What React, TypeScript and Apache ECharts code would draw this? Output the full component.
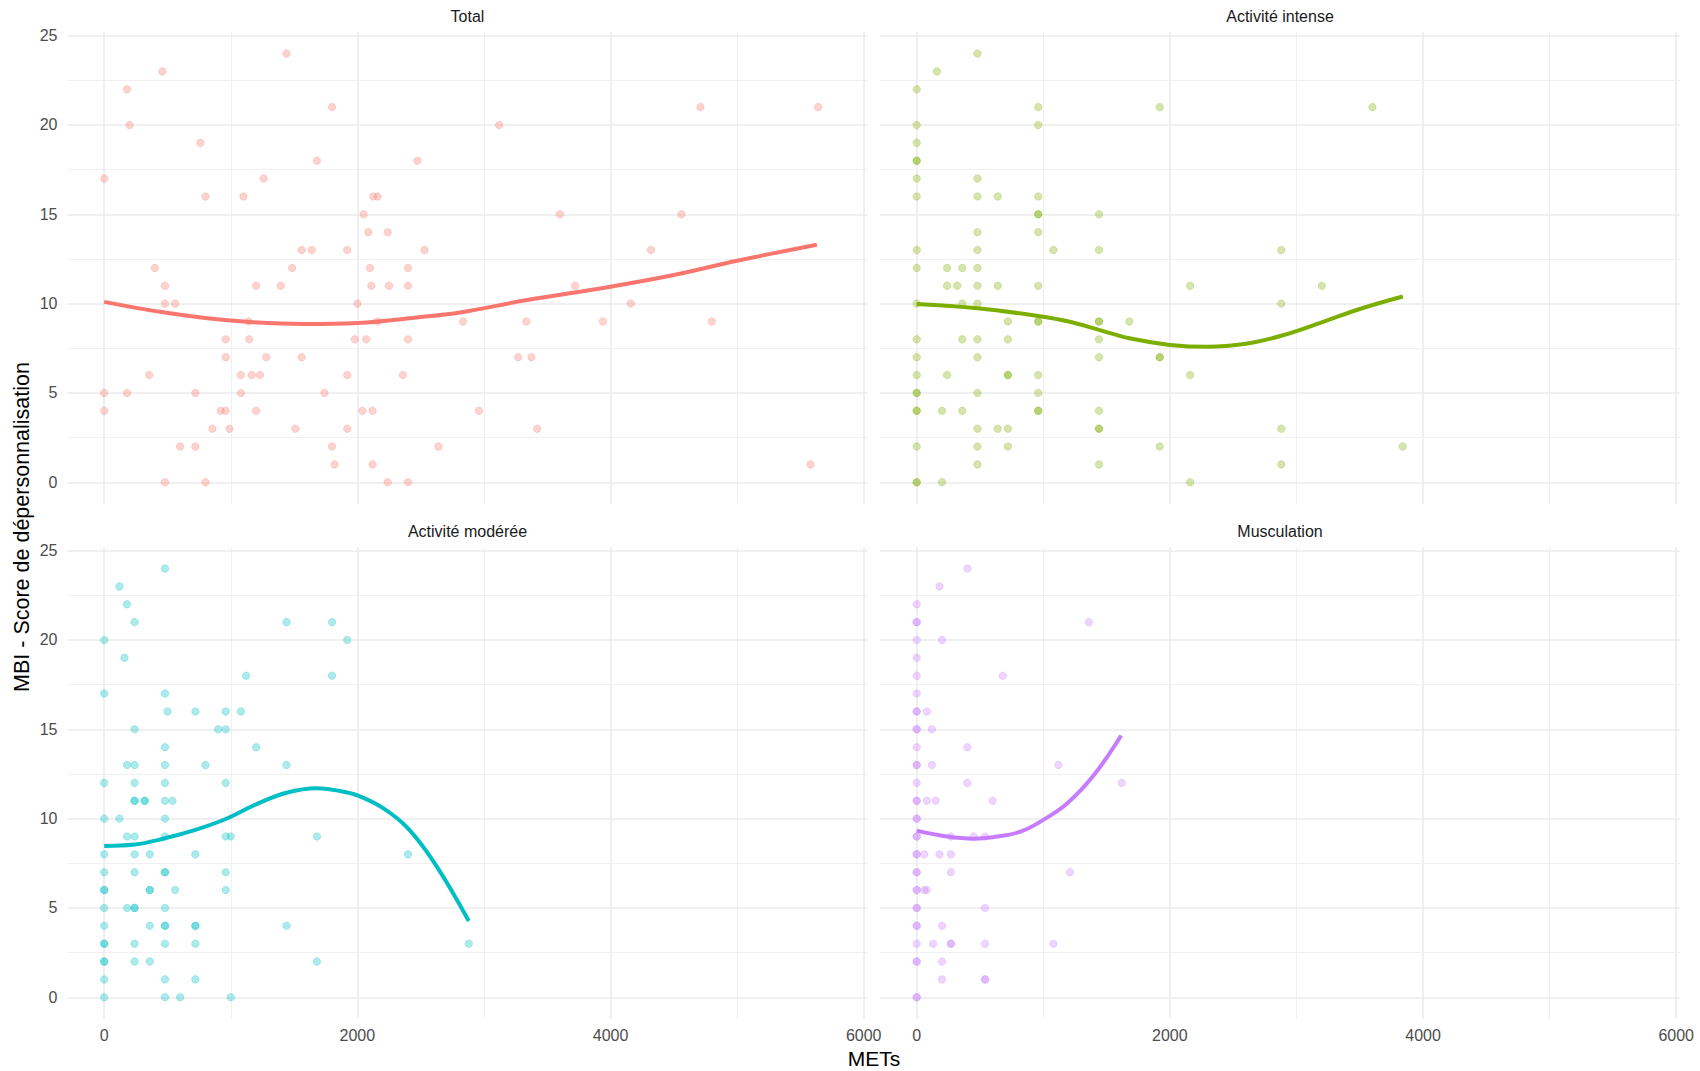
import React, { useEffect, useRef } from "react";
import * as echarts from "echarts";

// ---------- Data ----------
const panelTitles = ["Total", "Activité intense", "Activité modérée", "Musculation"];
const panelColors = ["#F8766D", "#7CAE00", "#00BFC4", "#C77CFF"];
const panelRGB = ["248,118,109", "124,174,0", "0,191,196", "199,124,255"];

const xTickValues = [0, 2000, 4000, 6000];
const xMinorValues = [1000, 3000, 5000];
const yTickValues = [0, 5, 10, 15, 20, 25];
const yMinorValues = [2.5, 7.5, 12.5, 17.5, 22.5];

const totalPoints: [number, number][] = [
  [1440, 24], [460, 23], [180, 22], [1800, 21], [4710, 21], [5640, 21], [200, 20], [3120, 20],
  [760, 19], [1680, 18], [2475, 18], [0, 17], [1260, 17], [800, 16], [1100, 16], [2125, 16],
  [2160, 16], [2050, 15], [3600, 15], [4560, 15], [2087, 14], [2240, 14], [1560, 13], [1640, 13],
  [1920, 13], [2530, 13], [4320, 13], [400, 12], [1485, 12], [2100, 12], [2400, 12], [480, 11],
  [1200, 11], [1395, 11], [2110, 11], [2250, 11], [2400, 11], [3720, 11], [480, 10], [560, 10],
  [2000, 10], [4160, 10], [1140, 9], [2160, 9], [2835, 9], [3335, 9], [3940, 9], [4800, 9],
  [960, 8], [1145, 8], [1980, 8], [2070, 8], [2400, 8], [960, 7], [1280, 7], [1560, 7],
  [3270, 7], [3375, 7], [355, 6], [1080, 6], [1165, 6], [1230, 6], [1920, 6], [2360, 6],
  [0, 5], [180, 5], [720, 5], [1080, 5], [1740, 5], [0, 4], [920, 4], [960, 4], [1200, 4],
  [2040, 4], [2120, 4], [2960, 4], [855, 3], [990, 3], [1510, 3], [1920, 3], [3420, 3],
  [600, 2], [720, 2], [1800, 2], [2640, 2], [1820, 1], [2120, 1], [5580, 1], [480, 0],
  [800, 0], [2240, 0], [2400, 0],
];
const totalCurve: [number, number][] = [
  [0, 10.1], [480, 9.5], [1000, 9.05], [1580, 8.86], [2000, 8.92], [2500, 9.25], [2810, 9.5],
  [3340, 10.2], [4000, 10.95], [4500, 11.6], [5000, 12.4], [5630, 13.3],
];

const intensePoints: [number, number][] = [
  [480, 24], [160, 23], [0, 22], [960, 21], [1920, 21], [3600, 21], [0, 20], [960, 20], [0, 19],
  [0, 18], [0, 18], [0, 17], [480, 17], [0, 16], [480, 16], [640, 16], [960, 16], [960, 15],
  [960, 15], [1440, 15], [480, 14], [960, 14], [0, 13], [480, 13], [1080, 13], [1440, 13],
  [2880, 13], [0, 12], [240, 12], [360, 12], [480, 12], [240, 11], [320, 11], [480, 11],
  [640, 11], [960, 11], [2160, 11], [3200, 11], [0, 10], [360, 10], [480, 10], [2880, 10],
  [720, 9], [960, 9], [960, 9], [1440, 9], [1440, 9], [1680, 9], [0, 8], [360, 8], [480, 8],
  [720, 8], [1440, 8], [0, 7], [480, 7], [1440, 7], [1920, 7], [1920, 7], [0, 6], [240, 6],
  [720, 6], [720, 6], [960, 6], [2160, 6], [0, 5], [0, 5], [480, 5], [960, 5], [0, 4], [0, 4],
  [200, 4], [360, 4], [960, 4], [960, 4], [1440, 4], [480, 3], [640, 3], [720, 3], [1440, 3],
  [1440, 3], [2880, 3], [0, 2], [480, 2], [720, 2], [1920, 2], [3840, 2], [480, 1], [1440, 1],
  [2880, 1], [0, 0], [0, 0], [200, 0], [2160, 0],
];
const intenseCurve: [number, number][] = [
  [0, 9.98], [480, 9.74], [960, 9.31], [1200, 9.0], [1440, 8.53], [1680, 8.06], [2000, 7.69],
  [2300, 7.58], [2600, 7.75], [2880, 8.2], [3200, 8.95], [3500, 9.7], [3840, 10.4],
];

const moderePoints: [number, number][] = [
  [480, 24], [120, 23], [180, 22], [240, 21], [1440, 21], [1800, 21], [0, 20], [1920, 20],
  [160, 19], [1120, 18], [1800, 18], [0, 17], [480, 17], [500, 16], [720, 16], [960, 16],
  [1080, 16], [240, 15], [900, 15], [960, 15], [480, 14], [1200, 14], [180, 13], [240, 13],
  [480, 13], [800, 13], [1440, 13], [0, 12], [240, 12], [480, 12], [960, 12], [240, 11],
  [240, 11], [320, 11], [320, 11], [480, 11], [540, 11], [0, 10], [120, 10], [480, 10],
  [180, 9], [240, 9], [480, 9], [960, 9], [1000, 9], [1680, 9], [0, 8], [240, 8], [360, 8],
  [720, 8], [2400, 8], [0, 7], [240, 7], [480, 7], [480, 7], [960, 7], [0, 6], [0, 6], [360, 6],
  [360, 6], [560, 6], [960, 6], [0, 5], [180, 5], [240, 5], [240, 5], [480, 5], [0, 4],
  [360, 4], [480, 4], [480, 4], [720, 4], [720, 4], [1440, 4], [0, 3], [0, 3], [240, 3],
  [480, 3], [720, 3], [2880, 3], [0, 2], [0, 2], [240, 2], [360, 2], [1680, 2], [0, 1],
  [480, 1], [720, 1], [0, 0], [480, 0], [600, 0], [1000, 0],
];
const modereCurve: [number, number][] = [
  [0, 8.47], [240, 8.55], [480, 8.9], [720, 9.37], [960, 9.98], [1200, 10.8], [1440, 11.45],
  [1680, 11.7], [1860, 11.55], [2000, 11.3], [2200, 10.6], [2400, 9.45], [2620, 7.4], [2880, 4.27],
];

const muscuPoints: [number, number][] = [
  [400, 24], [180, 23], [0, 22], [0, 21], [0, 21], [1360, 21], [0, 20], [200, 20], [0, 19],
  [0, 18], [680, 18], [0, 17], [0, 16], [0, 16], [80, 16], [0, 15], [0, 15], [120, 15], [0, 14],
  [400, 14], [0, 13], [0, 13], [120, 13], [1120, 13], [0, 12], [400, 12], [1620, 12], [0, 11],
  [0, 11], [80, 11], [150, 11], [600, 11], [0, 10], [0, 10], [0, 9], [0, 9], [270, 9], [450, 9],
  [540, 9], [0, 8], [0, 8], [60, 8], [180, 8], [270, 8], [0, 7], [0, 7], [270, 7], [1210, 7],
  [0, 6], [0, 6], [60, 6], [80, 6], [0, 5], [0, 5], [540, 5], [0, 4], [0, 4], [200, 4], [0, 3],
  [130, 3], [270, 3], [270, 3], [540, 3], [1080, 3], [0, 2], [0, 2], [200, 2], [200, 1],
  [540, 1], [540, 1], [0, 0], [0, 0],
];
const muscuCurve: [number, number][] = [
  [0, 9.33], [240, 9.0], [450, 8.88], [600, 8.96], [820, 9.27], [1000, 9.93], [1190, 10.86],
  [1400, 12.44], [1615, 14.65],
];

const panelPoints = [totalPoints, intensePoints, moderePoints, muscuPoints];
const panelCurves = [totalCurve, intenseCurve, modereCurve, muscuCurve];

// ---------- Layout ----------
const X_MIN = -290;
const X_MAX = 6030;
const Y_MIN = -1.2;
const Y_MAX = 25.2;
const gridBoxes = [
  { left: 67.5, top: 32.1, width: 800, height: 471.6 },
  { left: 880, top: 32.1, width: 800, height: 471.6 },
  { left: 67.5, top: 547.1, width: 800, height: 471.6 },
  { left: 880, top: 547.1, width: 800, height: 471.6 },
];
const FONT = "'Liberation Sans', Arial, sans-serif";

export default function App() {
  const ref = useRef<HTMLDivElement>(null);

  useEffect(() => {
    if (!ref.current) return;
    const chart = echarts.init(ref.current, undefined, { renderer: "svg" });

    const grids = gridBoxes.map((g) => ({ ...g, containLabel: false }));
    const xAxes = gridBoxes.map((_, i) => ({
      type: "value",
      gridIndex: i,
      min: X_MIN,
      max: X_MAX,
      axisLine: { show: false },
      axisTick: { show: false },
      splitLine: { show: false },
      axisLabel: {
        show: i >= 2,
        customValues: xTickValues,
        formatter: (v: number) => String(v),
        color: "#4D4D4D",
        fontSize: 16,
        fontFamily: FONT,
        margin: 9,
      },
    }));
    const yAxes = gridBoxes.map((_, i) => ({
      type: "value",
      gridIndex: i,
      min: Y_MIN,
      max: Y_MAX,
      axisLine: { show: false },
      axisTick: { show: false },
      splitLine: { show: false },
      axisLabel: {
        show: i % 2 === 0,
        customValues: yTickValues,
        formatter: (v: number) => String(v),
        color: "#4D4D4D",
        fontSize: 16,
        fontFamily: FONT,
        margin: 10,
      },
    }));

    const series: any[] = [];
    gridBoxes.forEach((_, i) => {
      const major = { color: "#EBEBEB", width: 1.6, type: "solid" };
      const minor = { color: "#F0F0F0", width: 1, type: "solid" };
      const lines: any[] = [];
      xTickValues.forEach((v) => lines.push({ xAxis: v, lineStyle: major }));
      xMinorValues.forEach((v) => lines.push({ xAxis: v, lineStyle: minor }));
      yTickValues.forEach((v) => lines.push({ yAxis: v, lineStyle: major }));
      yMinorValues.forEach((v) => lines.push({ yAxis: v, lineStyle: minor }));
      series.push({
        type: "line",
        xAxisIndex: i,
        yAxisIndex: i,
        data: [[0, 0]],
        symbol: "none",
        lineStyle: { opacity: 0 },
        silent: true,
        z: 1,
        markLine: {
          silent: true,
          z: 1,
          symbol: ["none", "none"],
          label: { show: false },
          animation: false,
          data: lines,
        },
      });
      series.push({
        type: "scatter",
        xAxisIndex: i,
        yAxisIndex: i,
        data: panelPoints[i],
        symbolSize: 7.5,
        itemStyle: {
          color: `rgba(${panelRGB[i]},0.4)`,
          borderColor: `rgba(${panelRGB[i]},0.3)`,
          borderWidth: 1,
        },
        z: 10,
      });
      series.push({
        type: "line",
        xAxisIndex: i,
        yAxisIndex: i,
        data: panelCurves[i],
        smooth: 0.4,
        symbol: "none",
        lineStyle: { color: panelColors[i], width: 4 },
        z: 20,
      });
    });

    const graphics: any[] = gridBoxes.map((g, i) => ({
      type: "text",
      x: g.left + g.width / 2,
      y: g.top - 16,
      style: {
        text: panelTitles[i],
        fill: "#1A1A1A",
        fontSize: 16,
        fontFamily: FONT,
        align: "center",
        verticalAlign: "middle",
      },
    }));
    graphics.push({
      type: "text",
      x: 874,
      y: 1058,
      style: {
        text: "METs",
        fill: "#000000",
        fontSize: 21,
        fontFamily: FONT,
        align: "center",
        verticalAlign: "middle",
      },
    });
    graphics.push({
      type: "text",
      x: 22,
      y: 527,
      rotation: Math.PI / 2,
      style: {
        text: "MBI - Score de dépersonnalisation",
        fill: "#000000",
        fontSize: 21.5,
        fontFamily: FONT,
        align: "center",
        verticalAlign: "middle",
      },
    });

    chart.setOption({
      animation: false,
      backgroundColor: "#FFFFFF",
      grid: grids,
      xAxis: xAxes,
      yAxis: yAxes,
      series,
      graphic: graphics,
    });

    return () => chart.dispose();
  }, []);

  return (
    <div
      ref={ref}
      style={{ position: "absolute", left: 0, top: 0, width: 1700, height: 1071, background: "#FFFFFF" }}
    />
  );
}
